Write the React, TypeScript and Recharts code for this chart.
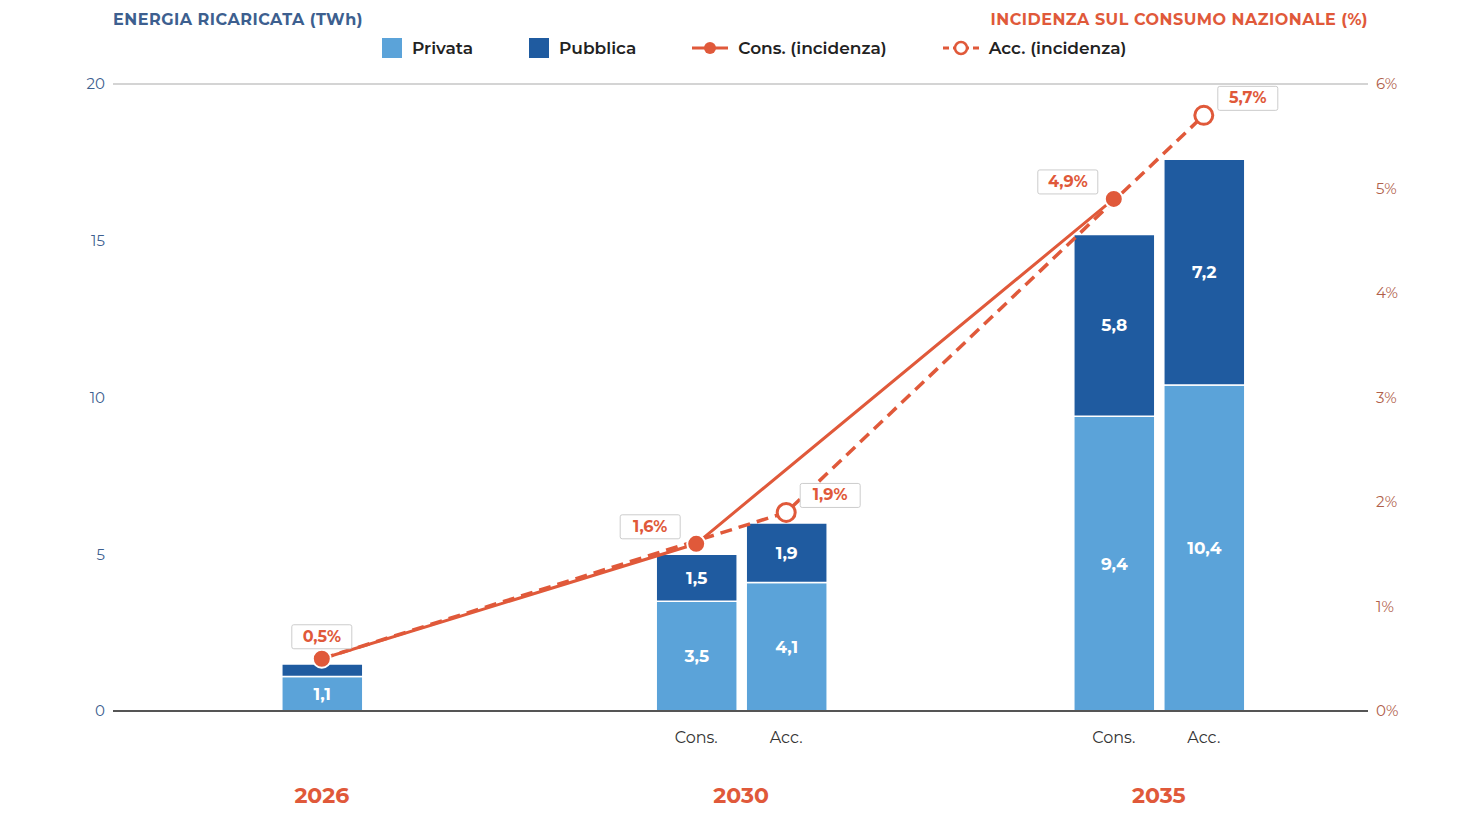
import React from "react"
import { ComposedChart, Bar, Line, XAxis, YAxis, CartesianGrid, LabelList } from "recharts"

// bar slots on a numeric axis (one unit = one bar width)
const positions = [2.32, 6.48, 7.48, 11.12, 12.12]
const subLabels = ["", "Cons.", "Acc.", "Cons.", "Acc."]
const privata = [1.1, 3.5, 4.1, 9.4, 10.4]
const pubblica = [0.4, 1.5, 1.9, 5.8, 7.2]
const consInc = [0.5, 1.6, null, 4.9, null]
const accInc = [0.5, null, 1.9, null, 5.7]
const yearTicks = [2.32, 6.98, 11.62]
const yearLabels = ["2026", "2030", "2035"]

const LIGHT = "#5BA3D9"
const DARK = "#1F5BA0"
const ORANGE = "#E0593A"
const FONT = "Montserrat, 'Open Sans', 'Noto Sans', sans-serif"

const data = positions.map((pos, i) => ({
  pos,
  privata: privata[i],
  pubblica: pubblica[i],
  cons: consInc[i],
  acc: accInc[i],
}))

const fmt = (v: number) => v.toFixed(1).replace(".", ",")

const XTick = (props: any) => {
  const { x, y, payload } = props
  const pi = positions.indexOf(payload.value)
  const yi = yearTicks.indexOf(payload.value)
  return (
    <g>
      {pi >= 0 && subLabels[pi] && (
        <text x={x} y={y + 24} textAnchor="middle" fontSize={16} fill="#333" fontFamily={FONT}>
          {subLabels[pi]}
        </text>
      )}
      {yi >= 0 && (
        <text x={x} y={y + 84} textAnchor="middle" fontSize={22} fontWeight={700} fill={ORANGE} fontFamily={FONT}>
          {yearLabels[yi]}
        </text>
      )}
    </g>
  )
}

const makePctLabel = (side: "left" | "right") => (props: any) => {
  const { x, y, value, index } = props
  if (value == null) return null
  if (side === "right" && index === 0) return null
  const w = 60
  const h = 24
  let bx = side === "left" ? x - 16 - w : x + 14
  let by = y - 5 - h
  if (index === 0) {
    bx = x - w / 2
    by = y - 10 - h
  }
  return (
    <g>
      <rect x={bx} y={by} width={w} height={h} fill="#fff" stroke="#ccc" rx={2} />
      <text x={bx + w / 2} y={by + 17} textAnchor="middle" fontSize={16} fontWeight={700} fill={ORANGE} fontFamily={FONT}>
        {fmt(value) + "%"}
      </text>
    </g>
  )
}

const AccDot = (props: any) => {
  const { cx, cy, index, value } = props
  if (index === 0 || value == null) return null
  return <circle cx={cx} cy={cy} r={9} fill="#fff" stroke={ORANGE} strokeWidth={3} />
}

const ConsDot = (props: any) => {
  const { cx, cy, value } = props
  if (value == null) return null
  return <circle cx={cx} cy={cy} r={9} fill={ORANGE} stroke="#fff" strokeWidth={2} />
}

const BarLabel = (props: any) => {
  const { x, y, width, height, value } = props
  if (height < 25) return null
  return (
    <text x={x + width / 2} y={y + height / 2 + 6} textAnchor="middle" fontSize={17} fontWeight={700} fill="#fff" fontFamily={FONT}>
      {fmt(value)}
    </text>
  )
}

const legendItem = (label: string, icon: React.ReactNode) => (
  <div style={{ display: "flex", alignItems: "center", gap: 10 }}>
    {icon}
    <span>{label}</span>
  </div>
)

export default function App() {
  return (
    <div style={{ position: "relative", width: 1450, height: 806, fontFamily: FONT, background: "#fff" }}>
      <div style={{ position: "absolute", left: 105, top: 2, fontSize: 16, fontWeight: 700, color: "#3D5F8F", letterSpacing: 0.5 }}>
        ENERGIA RICARICATA (TWh)
      </div>
      <div style={{ position: "absolute", right: 90, top: 2, fontSize: 16, fontWeight: 700, color: ORANGE, letterSpacing: 0.5 }}>
        INCIDENZA SUL CONSUMO NAZIONALE (%)
      </div>
      <div style={{ position: "absolute", left: 374, top: 30, display: "flex", gap: 56, fontSize: 17, fontWeight: 600, color: "#222" }}>
        {legendItem("Privata", <span style={{ width: 20, height: 20, background: LIGHT, display: "inline-block" }} />)}
        {legendItem("Pubblica", <span style={{ width: 20, height: 20, background: DARK, display: "inline-block" }} />)}
        {legendItem(
          "Cons. (incidenza)",
          <svg width={36} height={20}>
            <line x1={0} y1={10} x2={36} y2={10} stroke={ORANGE} strokeWidth={3} />
            <circle cx={18} cy={10} r={6} fill={ORANGE} />
          </svg>
        )}
        {legendItem(
          "Acc. (incidenza)",
          <svg width={36} height={20}>
            <line x1={0} y1={10} x2={36} y2={10} stroke={ORANGE} strokeWidth={3} strokeDasharray="6 4" />
            <circle cx={18} cy={10} r={6} fill="#fff" stroke={ORANGE} strokeWidth={2.5} />
          </svg>
        )}
      </div>
      <ComposedChart
        width={1450}
        height={806}
        data={data}
        barCategoryGap={0}
        barGap={0}
        margin={{ top: 76, right: 30, bottom: 73, left: 45 }}
      >
        <CartesianGrid vertical={false} stroke="#d4d4d4" strokeWidth={2} />
        <XAxis
          dataKey="pos"
          type="number"
          domain={[0, 1255 / 90]}
          ticks={[...positions, 6.98, 11.62]}
          interval={0}
          tick={<XTick />}
          tickLine={false}
          axisLine={{ stroke: "#555", strokeWidth: 2 }}
          allowDataOverflow
        />
        <YAxis
          yAxisId="l"
          domain={[0, 20]}
          ticks={[0, 5, 10, 15, 20]}
          width={60}
          tick={{ fill: "#3D5F8F", fontSize: 15, fontFamily: FONT }}
          tickLine={false}
          axisLine={false}
        />
        <YAxis
          yAxisId="r"
          orientation="right"
          domain={[0, 6]}
          ticks={[0, 1, 2, 3, 4, 5, 6]}
          tickFormatter={(v) => v + "%"}
          width={60}
          tick={{ fill: "#B0604A", fontSize: 15, fontFamily: FONT, textAnchor: "start" }}
          tickLine={false}
          axisLine={false}
        />
        <Bar yAxisId="l" dataKey="privata" stackId="s" fill={LIGHT} stroke="#fff" strokeWidth={1.5} barSize={90} isAnimationActive={false}>
          <LabelList dataKey="privata" content={<BarLabel />} />
        </Bar>
        <Bar yAxisId="l" dataKey="pubblica" stackId="s" fill={DARK} stroke="#fff" strokeWidth={1.5} barSize={90} isAnimationActive={false}>
          <LabelList dataKey="pubblica" content={<BarLabel />} />
        </Bar>
        <Line yAxisId="r" dataKey="acc" stroke={ORANGE} strokeWidth={3.5} strokeDasharray="12 7" connectNulls dot={<AccDot />} isAnimationActive={false}>
          <LabelList dataKey="acc" content={makePctLabel("right")} />
        </Line>
        <Line yAxisId="r" dataKey="cons" stroke={ORANGE} strokeWidth={3} connectNulls dot={<ConsDot />} isAnimationActive={false}>
          <LabelList dataKey="cons" content={makePctLabel("left")} />
        </Line>
      </ComposedChart>
    </div>
  )
}
